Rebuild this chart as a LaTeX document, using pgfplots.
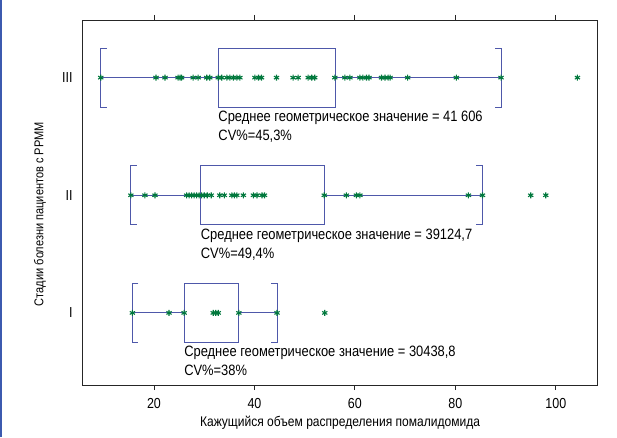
\documentclass[border=0pt]{standalone}
\usepackage{pgfplots}
\pgfplotsset{compat=1.18}
\usepackage{fontspec}
\setmainfont{Liberation Sans}[FakeStretch=0.86]
\definecolor{boxc}{RGB}{78,88,170}
\definecolor{ptc}{RGB}{0,120,60}
\definecolor{edge}{RGB}{60,90,175}
\begin{document}
\begin{tikzpicture}
\path[use as bounding box] (-82pt,-52pt) rectangle (535pt,385pt);
\draw[edge, line width=2.5pt] (-80.75pt,-52pt) -- (-80.75pt,385pt);
\begin{axis}[
  scale only axis, width=515pt, height=365pt,
  xmin=5.67, xmax=108.2, ymin=0.387, ymax=3.49,
  xtick={20,40,60,80,100},
  ytick={1,2,3}, yticklabels={I,II,III},
  ytick style={draw=none},
  tick align=outside, major tick length=5pt,
  axis line style={black!85, line width=0.9pt},
  xtick style={black!85, line width=0.9pt},
  /pgf/number format/assume math mode=true,
  tick label style={font=\fontsize{14.5}{16}\selectfont},
  xticklabel style={yshift=-5pt},
  yticklabel style={xshift=-1pt},
  xlabel={Кажущийся объем распределения помалидомида},
  ylabel={Стадии болезни пациентов с РРММ},
  xlabel style={font=\fontsize{14}{16}\selectfont, at={(axis description cs:0.501,-0.104)}, anchor=center},
  ylabel style={font=\fontsize{12.8}{15}\selectfont, at={(axis description cs:-0.0816,0.468)}, anchor=center},
  clip=false,
]
% ---- group III
\addplot[boxc, line width=0.8pt] coordinates {(32.8,2.75) (56.2,2.75) (56.2,3.25) (32.8,3.25) (32.8,2.75)};
\addplot[boxc, line width=0.8pt] coordinates {(10.6,3.25) (9.4,3.25) (9.4,2.75) (10.6,2.75)};
\addplot[boxc, line width=0.8pt] coordinates {(87.9,3.25) (89.1,3.25) (89.1,2.75) (87.9,2.75)};
\addplot[boxc, line width=0.8pt] coordinates {(9.4,3) (32.8,3)};
\addplot[boxc, line width=0.8pt] coordinates {(56.2,3) (89.1,3)};
% ---- group II
\addplot[boxc, line width=0.8pt] coordinates {(29.3,1.75) (53.9,1.75) (53.9,2.25) (29.3,2.25) (29.3,1.75)};
\addplot[boxc, line width=0.8pt] coordinates {(16.6,2.25) (15.4,2.25) (15.4,1.75) (16.6,1.75)};
\addplot[boxc, line width=0.8pt] coordinates {(84.2,2.25) (85.4,2.25) (85.4,1.75) (84.2,1.75)};
\addplot[boxc, line width=0.8pt] coordinates {(15.4,2) (29.3,2)};
\addplot[boxc, line width=0.8pt] coordinates {(53.9,2) (85.4,2)};
% ---- group I
\addplot[boxc, line width=0.8pt] coordinates {(26.0,0.75) (36.9,0.75) (36.9,1.25) (26.0,1.25) (26.0,0.75)};
\addplot[boxc, line width=0.8pt] coordinates {(16.9,1.25) (15.7,1.25) (15.7,0.75) (16.9,0.75)};
\addplot[boxc, line width=0.8pt] coordinates {(43.3,1.25) (44.5,1.25) (44.5,0.75) (43.3,0.75)};
\addplot[boxc, line width=0.8pt] coordinates {(15.7,1) (26.0,1)};
\addplot[boxc, line width=0.8pt] coordinates {(36.9,1) (44.5,1)};
% ---- points
\addplot[only marks, mark=asterisk, mark size=3pt, mark options={ptc, line width=1.1pt}] coordinates {
(9.4,3)(20.4,3)(22.2,3)(24.8,3)(25.2,3)(25.5,3)(27.8,3)(28.8,3)(30.5,3)(31.1,3)
(32.8,3)(33.5,3)(34.5,3)(35.1,3)(35.8,3)(36.5,3)(37.1,3)(40.1,3)(40.8,3)(41.4,3)
(44.4,3)(47.7,3)(48.7,3)(50.7,3)(51.4,3)(52.0,3)(56.0,3)(58.0,3)(59.0,3)(61.0,3)
(61.6,3)(62.3,3)(62.8,3)(65.3,3)(66.0,3)(66.6,3)(67.0,3)(70.5,3)(80.2,3)(89.1,3)(104.3,3)
(15.4,2)(18.2,2)(20.2,2)(26.5,2)(27.0,2)(27.5,2)(28.0,2)(28.5,2)(29.0,2)(29.5,2)
(30.0,2)(30.6,2)(31.4,2)(33.1,2)(34.0,2)(35.5,2)(36.0,2)(36.5,2)(37.8,2)(39.8,2)
(40.5,2)(41.5,2)(42.0,2)(53.9,2)(58.3,2)(60.3,2)(61.0,2)(82.6,2)(85.4,2)(95.0,2)(98.0,2)
(15.7,1)(23.0,1)(26.0,1)(31.8,1)(32.3,1)(32.8,1)(36.9,1)(44.5,1)(54.0,1)
};
% ---- annotations
\node[anchor=north west, inner sep=0pt, align=left, font=\fontsize{15}{19}\selectfont, yshift=-4pt] at (axis cs:32.8,2.75) {Среднее геометрическое значение = 41 606\\CV\%=45,3\%};
\node[anchor=north west, inner sep=0pt, align=left, font=\fontsize{15}{19}\selectfont, yshift=-4pt] at (axis cs:29.3,1.75) {Среднее геометрическое значение = 39124,7\\CV\%=49,4\%};
\node[anchor=north west, inner sep=0pt, align=left, font=\fontsize{15}{19}\selectfont, yshift=-4pt] at (axis cs:26.0,0.75) {Среднее геометрическое значение = 30438,8\\CV\%=38\%};
\end{axis}
\end{tikzpicture}
\end{document}
